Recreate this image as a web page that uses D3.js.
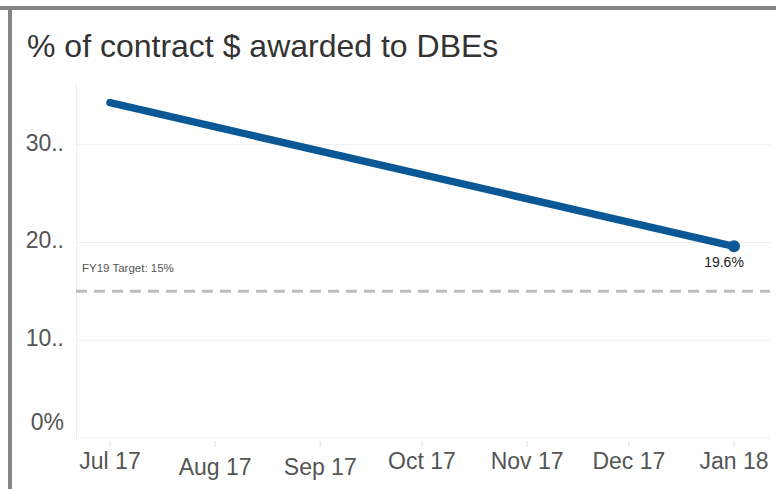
<!DOCTYPE html>
<html>
<head>
<meta charset="utf-8">
<script src="https://d3js.org/d3.v7.min.js"></script>
<style>
  body { margin: 0; background: #fff; }
  svg text { font-family: "Liberation Sans", Arial, sans-serif; }
</style>
</head>
<body>
<div id="chart"></div>
<script>
// data
var months = ["2017-07-01", "2017-08-01", "2017-09-01", "2017-10-01", "2017-11-01", "2017-12-01", "2018-01-01"];
var monthLabels = ["Jul 17", "Aug 17", "Sep 17", "Oct 17", "Nov 17", "Dec 17", "Jan 18"];
var pointDates = ["2017-07-01", "2018-01-01"];
var pointValues = [34.3, 19.6];
var yTicks = [0, 10, 20, 30];
var yTickLabels = ["0%", "10..", "20..", "30.."];
var target = 15;

var W = 776, H = 489;
var parse = d3.timeParse("%Y-%m-%d");

var svg = d3.select("#chart").append("svg")
    .attr("width", W)
    .attr("height", H);

// frame borders
svg.append("rect").attr("x", 0).attr("y", 6).attr("width", W).attr("height", 4).style("fill", "#858585");
svg.append("rect").attr("x", 8).attr("y", 6).attr("width", 4).attr("height", H - 6).style("fill", "#858585");

svg.append("text")
    .attr("x", 27).attr("y", 57)
    .style("font-size", "32px")
    .style("fill", "#333")
    .text("% of contract $ awarded to DBEs");

var x = d3.scaleTime()
    .domain([parse(months[0]), parse(months[months.length - 1])])
    .range([110, 734]);

var y = d3.scaleLinear()
    .domain([0, 36])
    .range([438, 86]);

// gridlines
svg.append("g").selectAll("line")
  .data(yTicks)
  .enter().append("line")
    .attr("x1", 76).attr("x2", 770)
    .attr("y1", function(d) { return y(d); })
    .attr("y2", function(d) { return y(d); })
    .style("stroke", function(d) { return d === 0 ? "#e4e4e4" : "#efefef"; })
    .style("stroke-dasharray", function(d) { return d === 0 ? "1,1" : null; });

// y axis line
svg.append("line")
    .attr("x1", 76.5).attr("x2", 76.5)
    .attr("y1", 83).attr("y2", 440)
    .style("stroke", "#eeeeee");

// y tick labels (bottom one is pushed up to stay inside the pane)
svg.append("g").selectAll("text")
  .data(yTicks)
  .enter().append("text")
    .attr("x", 64)
    .attr("y", function(d) { return d === 0 ? y(d) - 8 : y(d) + 6; })
    .attr("text-anchor", "end")
    .style("font-size", "23px")
    .style("fill", "#555")
    .text(function(d, i) { return yTickLabels[i]; });

// x axis ticks and labels
var xa = svg.append("g");
xa.selectAll("line")
  .data(months)
  .enter().append("line")
    .attr("x1", function(d) { return x(parse(d)); })
    .attr("x2", function(d) { return x(parse(d)); })
    .attr("y1", 441).attr("y2", 447)
    .style("stroke", "#e0e0e0");
xa.selectAll("text")
  .data(months)
  .enter().append("text")
    .attr("x", function(d) { return x(parse(d)); })
    .attr("y", function(d, i) { return (i === 1 || i === 2) ? 475 : 469; })
    .attr("text-anchor", "middle")
    .style("font-size", "23px")
    .style("fill", "#555")
    .text(function(d, i) { return monthLabels[i]; });

// target reference line
svg.append("line")
    .attr("x1", 76).attr("x2", 770)
    .attr("y1", y(target)).attr("y2", y(target))
    .style("stroke", "#bdbdbd")
    .style("stroke-width", 3)
    .style("stroke-dasharray", "11,7");
svg.append("text")
    .attr("x", 82).attr("y", y(target) - 19)
    .style("font-size", "11.5px")
    .style("fill", "#555")
    .text("FY19 Target: " + target + "%");

// series line
var pts = pointDates.map(function(d, i) { return { date: parse(d), value: pointValues[i] }; });
var line = d3.line()
    .x(function(d) { return x(d.date); })
    .y(function(d) { return y(d.value); });

svg.append("path")
    .datum(pts)
    .attr("d", line)
    .style("fill", "none")
    .style("stroke", "#0b5896")
    .style("stroke-width", 7.5)
    .style("stroke-linecap", "round");

var last = pts[pts.length - 1];
svg.append("circle")
    .attr("cx", x(last.date)).attr("cy", y(last.value))
    .attr("r", 6)
    .style("fill", "#0b5896");
svg.append("text")
    .attr("x", x(last.date) - 10).attr("y", y(last.value) + 21)
    .attr("text-anchor", "middle")
    .style("font-size", "14px")
    .style("fill", "#222")
    .text(last.value + "%");
</script>
</body>
</html>
